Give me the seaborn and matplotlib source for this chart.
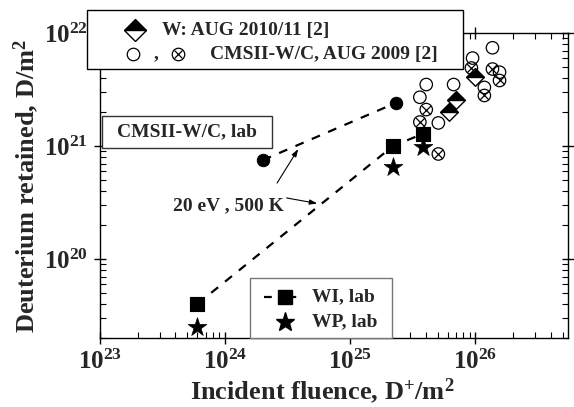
import numpy as np
import pandas as pd
import matplotlib
matplotlib.use("Agg")
import matplotlib.pyplot as plt
import seaborn as sns
from matplotlib.path import Path
from matplotlib.patches import Rectangle
from matplotlib.ticker import LogLocator, NullFormatter, FixedLocator

# ---------------- data ----------------
# CMSII-W/C, lab (filled circles, dashed)
cms_lab_x = [2.0e24, 2.3e25]
cms_lab_y = [7.5e20, 2.4e21]
# WI, lab (filled squares, dashed)
wi_x = [6.0e23, 2.2e25, 3.8e25]
wi_y = [4.0e19, 1.0e21, 1.28e21]
# WP, lab (stars)
wp_x = [6.0e23, 2.2e25, 3.8e25]
wp_y = [2.5e19, 6.5e20, 0.98e21]
# W: AUG 2010/11 (half-filled diamonds)
aug_w_x = [1.0e26, 7.05e25, 6.1e25]
aug_w_y = [4.1e21, 2.55e21, 2.0e21]
# CMSII-W/C AUG 2009, open circles
aug_o_x = [1.37e26, 9.5e25, 4.05e25, 3.6e25, 6.7e25, 5.06e25, 1.18e26, 1.56e26]
aug_o_y = [7.4e21, 6.0e21, 3.5e21, 2.7e21, 3.5e21, 1.6e21, 3.3e21, 4.5e21]
# CMSII-W/C AUG 2009, crossed circles
aug_x_x = [9.3e25, 1.37e26, 1.56e26, 4.05e25, 3.6e25, 1.18e26, 5.06e25]
aug_x_y = [4.9e21, 4.8e21, 3.8e21, 2.1e21, 1.63e21, 2.8e21, 8.5e20]

xlim = (1e23, 5.5e26)
ylim = (2e19, 1e22)
xticks = [1e23, 1e24, 1e25, 1e26]
yticks = [1e20, 1e21, 1e22]
xtick_labels = [r"$\mathbf{10^{23}}$", r"$\mathbf{10^{24}}$", r"$\mathbf{10^{25}}$", r"$\mathbf{10^{26}}$"]
ytick_labels = [r"$\mathbf{10^{20}}$", r"$\mathbf{10^{21}}$", r"$\mathbf{10^{22}}$"]

# ---------------- style ----------------
sns.set_style("ticks")
plt.rcParams["font.family"] = ["Liberation Serif", "DejaVu Serif"]
plt.rcParams["font.weight"] = "bold"
plt.rcParams["mathtext.fontset"] = "custom"
plt.rcParams["mathtext.rm"] = "Liberation Serif:bold"
plt.rcParams["mathtext.bf"] = "Liberation Serif:bold"
plt.rcParams["mathtext.it"] = "Liberation Serif:bold"

W, H = 574, 407
fig = plt.figure(figsize=(W / 100, H / 100), dpi=100)
ax = fig.add_axes([100 / W, 1 - 338 / H, 468 / W, 305 / H])
ax.set_xscale("log")
ax.set_yscale("log")

diamond = Path([(0, 1), (1, 0), (0, -1), (-1, 0), (0, 1)],
               [Path.MOVETO, Path.LINETO, Path.LINETO, Path.LINETO, Path.CLOSEPOLY])
diamond_top = Path([(-1, 0), (0, 1), (1, 0), (-1, 0)],
                   [Path.MOVETO, Path.LINETO, Path.LINETO, Path.CLOSEPOLY])

# dashed lab lines
sns.lineplot(x=cms_lab_x, y=cms_lab_y, ax=ax, color="black", lw=1.6,
             linestyle=(0, (4, 4)), sort=False, estimator=None)
sns.lineplot(x=wi_x, y=wi_y, ax=ax, color="black", lw=1.6,
             linestyle=(0, (4, 4)), sort=False, estimator=None)

# markers
sns.scatterplot(x=cms_lab_x, y=cms_lab_y, ax=ax, marker="o", s=80,
                color="black", edgecolor="black", zorder=5)
sns.scatterplot(x=wi_x, y=wi_y, ax=ax, marker="s", s=105,
                color="black", edgecolor="black", zorder=5)
sns.scatterplot(x=wp_x, y=wp_y, ax=ax, marker="*", s=200,
                color="black", edgecolor="black", linewidth=0.5, zorder=5)
sns.scatterplot(x=aug_o_x, y=aug_o_y, ax=ax, marker="o", s=80,
                facecolor="none", edgecolor="black", linewidth=0.9, zorder=4)
sns.scatterplot(x=aug_x_x, y=aug_x_y, ax=ax, marker="o", s=80,
                facecolor="none", edgecolor="black", linewidth=0.9, zorder=4)
sns.scatterplot(x=aug_x_x, y=aug_x_y, ax=ax, marker="x", s=40,
                color="black", linewidth=0.9, zorder=4)
sns.scatterplot(x=aug_w_x, y=aug_w_y, ax=ax, marker=diamond, s=160,
                facecolor="white", edgecolor="black", linewidth=1.0, zorder=6)
sns.scatterplot(x=aug_w_x, y=aug_w_y, ax=ax, marker=diamond_top, s=160,
                color="black", edgecolor="black", linewidth=1.0, zorder=6)

ax.set_xlim(*xlim)
ax.set_ylim(*ylim)
ax.xaxis.set_major_locator(FixedLocator(xticks))
ax.yaxis.set_major_locator(FixedLocator(yticks))
ax.set_xticklabels(xtick_labels)
ax.set_yticklabels(ytick_labels)
ax.xaxis.set_minor_locator(LogLocator(base=10, subs=np.arange(2, 10), numticks=20))
ax.yaxis.set_minor_locator(LogLocator(base=10, subs=np.arange(2, 10), numticks=20))
ax.xaxis.set_minor_formatter(NullFormatter())
ax.yaxis.set_minor_formatter(NullFormatter())
ax.tick_params(which="major", direction="inout", length=9, width=1.0,
               top=True, right=True, labelsize=18, pad=4, color="black")
ax.tick_params(which="minor", direction="in", length=4, width=0.8,
               top=True, right=True, color="black")
for sp in ax.spines.values():
    sp.set_linewidth(1.0)
    sp.set_color("black")

ax.set_xlabel(r"Incident fluence, D$^{\mathbf{+}}$/m$^{\mathbf{2}}$",
              fontsize=19, fontweight="bold")
ax.xaxis.set_label_coords(0.475, -0.125)
ax.set_ylabel(r"Deuterium retained, D/m$^{\mathbf{2}}$",
              fontsize=19, fontweight="bold", labelpad=2)

# annotations
ax.text(1.06e24, 2.95e20, "20 eV , 500 K", fontsize=14, fontweight="bold",
        ha="center", va="center")
ax.annotate("", xy=(3.84e24, 9.4e20), xytext=(2.6e24, 4.7e20),
            arrowprops=dict(arrowstyle="-|>,head_length=0.45,head_width=0.15",
                            color="black", lw=0.8, shrinkA=0, shrinkB=0))
ax.annotate("", xy=(5.45e24, 3.1e20), xytext=(3.1e24, 3.47e20),
            arrowprops=dict(arrowstyle="-|>,head_length=0.45,head_width=0.15",
                            color="black", lw=0.8, shrinkA=0, shrinkB=0))

# ---------------- overlay for legend boxes ----------------
ov = fig.add_axes([0, 0, 1, 1], zorder=10)
ov.set_xlim(0, W)
ov.set_ylim(H, 0)
ov.axis("off")
ov.patch.set_alpha(0)

# top legend
ov.add_patch(Rectangle((87, 10), 376, 59, facecolor="white", edgecolor="black", lw=1.0))
ov.plot([135], [30], marker="D", ms=11, fillstyle="top", markerfacecolor="black",
        markerfacecoloralt="white", markeredgecolor="black", mew=1.0, ls="")
ov.text(162, 30, "W: AUG 2010/11 [2]", fontsize=14, fontweight="bold", va="center", ha="left")
ov.plot([133], [54], marker="o", ms=9, mfc="none", mec="black", mew=0.9, ls="")
ov.text(156, 54, ",", fontsize=14, fontweight="bold", va="center", ha="center")
ov.plot([178], [54], marker="o", ms=9, mfc="none", mec="black", mew=0.9, ls="")
ov.plot([178], [54], marker="x", ms=6.3, mec="black", mew=0.9, ls="")
ov.text(210, 54, "CMSII-W/C, AUG 2009 [2]", fontsize=14, fontweight="bold", va="center", ha="left")

# lab box
ov.add_patch(Rectangle((102, 116), 170, 32, facecolor="white", edgecolor="#333333", lw=1.0))
ov.text(187, 132, "CMSII-W/C, lab", fontsize=14, fontweight="bold", va="center", ha="center")

# bottom legend
ov.add_patch(Rectangle((250, 278), 142, 60, facecolor="white", edgecolor="#777777", lw=1.0))
ov.plot([264, 306], [297, 297], color="black", lw=1.6, ls=(0, (3.5, 7.5)))
ov.plot([285], [297], marker="s", ms=10, color="black", ls="")
ov.text(312, 297, "WI, lab", fontsize=14, fontweight="bold", va="center", ha="left")
ov.plot([285], [322], marker="*", ms=14, color="black", ls="")
ov.text(312, 322, "WP, lab", fontsize=14, fontweight="bold", va="center", ha="left")

fig.savefig("out.png", dpi=100)
